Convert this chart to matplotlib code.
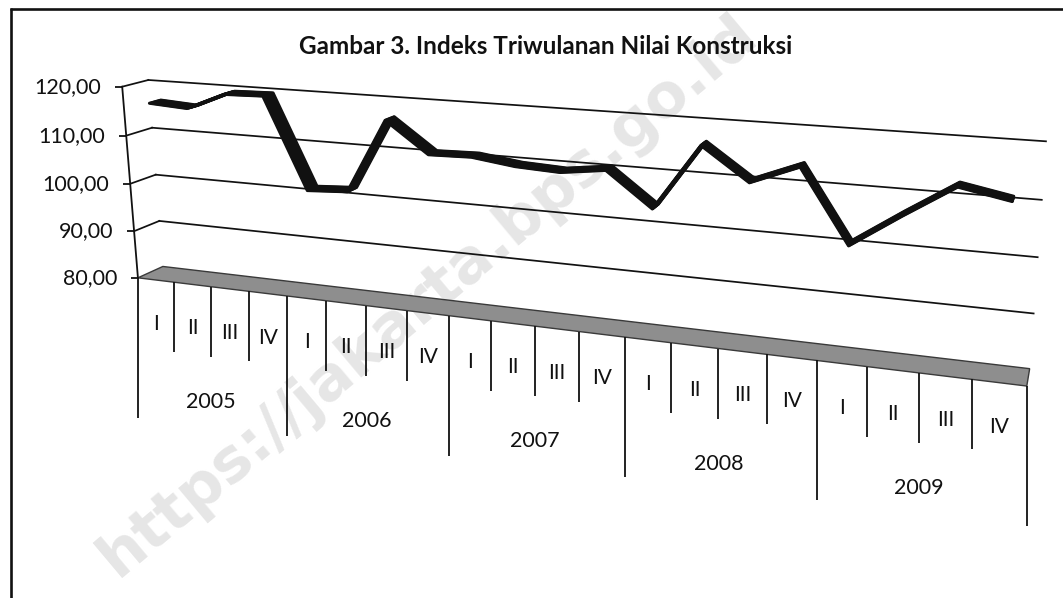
import numpy as np
import matplotlib
matplotlib.use("Agg")
import matplotlib.pyplot as plt
from matplotlib.transforms import Transform, offset_copy

# ---------------- data ----------------
quarters = ["I", "II", "III", "IV"]
years = ["2005", "2006", "2007", "2008", "2009"]
index_values = [
    116.5, 116.0, 119.4, 119.6,   # 2005
    101.4, 101.9, 116.6, 110.6,   # 2006
    110.8, 109.7, 109.3, 110.4,   # 2007
    104.0, 116.3, 110.3, 113.8,   # 2008
    100.6, 106.7, 112.5, 110.8,   # 2009
]
value_ticks = [80, 90, 100, 110, 120]
value_tick_labels = ["80,00", "90,00", "100,00", "110,00", "120,00"]
title = "Gambar 3. Indeks Triwulanan Nilai Konstruksi"
watermark = "https://jakarta.bps.go.id"

# ---------------- layout ----------------
W, H = 1063, 598
VMIN, VMAX = 80.0, 120.0
NCAT = len(years) * len(quarters)

# anchors of the 3-D box (category u, depth w [0 front,1 back], value v) -> image pixels
anchors = [
    ((0, 1, 120), (148, 80)), ((0, 1, 110), (152, 128)), ((0, 1, 100), (157, 175)),
    ((0, 1, 90), (159, 221)), ((0, 1, 80), (162, 267)),
    ((20, 1, 120), (1046, 142)), ((20, 1, 110), (1042, 200)), ((20, 1, 100), (1037, 257)),
    ((20, 1, 90), (1034, 312)), ((20, 1, 80), (1030, 368)),
    ((0, 0, 120), (122, 86)), ((0, 0, 80), (138, 277)), ((20, 0, 80), (1027, 387)),
    ((4, 0, 80), (288, 296)), ((8, 0, 80), (449, 316)), ((12, 0, 80), (624, 337)),
    ((16, 0, 80), (816, 361)),
]


def fit_camera(anchor_list):
    X = np.array([[u / NCAT, w, (v - VMIN) / (VMAX - VMIN), 1.0] for (u, w, v), _ in anchor_list])
    P = np.array([p for _, p in anchor_list], float)
    m = P.mean(0)
    s = P.std()
    Pn = (P - m) / s
    rows = []
    for Xi, (x, y) in zip(X, Pn):
        rows.append(np.r_[Xi, np.zeros(4), -x * Xi])
        rows.append(np.r_[np.zeros(4), Xi, -y * Xi])
    _, _, Vt = np.linalg.svd(np.array(rows))
    M = Vt[-1].reshape(3, 4)
    T = np.array([[s, 0, m[0]], [0, s, m[1]], [0, 0, 1]])
    return T @ M


CAM = fit_camera(anchors)


class Scene(Transform):
    """Maps 2-D coordinates lying on one plane of the 3-D chart box to image pixels."""
    input_dims = 2
    output_dims = 2
    is_separable = False
    has_inverse = False

    def __init__(self, mode, const):
        super().__init__()
        self.mode = mode
        self.const = const

    def transform_non_affine(self, pts):
        pts = np.asarray(pts, float).reshape(-1, 2)
        a, b = pts[:, 0], pts[:, 1]
        one = np.ones(len(a))
        if self.mode == "uv":
            u, w, v = a, self.const * one, b
        elif self.mode == "wv":
            u, w, v = self.const * one, a, b
        else:  # "uw"
            u, w, v = a, b, self.const * one
        X = np.vstack([u / NCAT, w, (v - VMIN) / (VMAX - VMIN), one])
        p = CAM @ X
        return np.column_stack([p[0] / p[2], p[1] / p[2]])


fig = plt.figure(figsize=(W / 100, H / 100), dpi=100)
ax = fig.add_axes([0, 0, 1, 1])
ax.set_xlim(0, W)
ax.set_ylim(H, 0)
ax.set_autoscale_on(False)
ax.axis("off")

def T(mode, const):
    return Scene(mode, const) + ax.transData

FONT = ["Lato", "DejaVu Sans"]
INK = "#111111"

# watermark
ax.text(428, 296, watermark, rotation=40, color="#e6e6e6", fontsize=44,
        fontweight="bold", family=["DejaVu Sans"], ha="center", va="center", zorder=0)

# outer frame (left and top only)
ax.plot([11, 11], [8, H], color=INK, lw=1.9, solid_capstyle="butt", zorder=1)
ax.plot([10, W], [9, 9], color=INK, lw=1.9, solid_capstyle="butt", zorder=1)

# title
ax.text(546, 47, title, ha="center", va="center", fontsize=17.5, fontweight="bold",
        family=FONT, color=INK, zorder=5)

# gridlines: back wall + side wall
for v in value_ticks[1:]:
    ax.plot([0, NCAT], [v, v], transform=T("uv", 1.0), color=INK, lw=1.25, zorder=2)
    ax.plot([0, 1], [v, v], transform=T("wv", 0.0), color=INK, lw=1.25, zorder=2)

# floor
ax.fill([0, NCAT, NCAT, 0], [0, 0, 1, 1], transform=T("uw", VMIN),
        facecolor="#8e8e8e", edgecolor="#3a3a3a", lw=1.0, zorder=2)

# value axis, ticks and labels
ax.plot([0, 0], [VMIN, VMAX], transform=T("wv", 0.0), color=INK, lw=1.3, zorder=3)
ax.plot([0] * len(value_ticks), value_ticks, ls="none", marker=0, markersize=5,
        mew=1.3, color=INK, transform=T("wv", 0.0), zorder=3)
lab_tr = offset_copy(T("wv", 0.0), fig=fig, x=-21, y=0, units="dots")
for v, lab in zip(value_ticks, value_tick_labels):
    ax.text(0, v, lab, transform=lab_tr, ha="right", va="center", fontsize=15.5,
            family=FONT, color=INK, zorder=5)

# category table below the floor
quarter_edges = [i for i in range(NCAT + 1) if i % len(quarters) != 0]
year_edges = [i for i in range(NCAT + 1) if i % len(quarters) == 0]
ax.plot(quarter_edges, [0] * len(quarter_edges), ls="none", marker=3, markersize=50.4,
        mew=1.3, color=INK, transform=T("uw", VMIN), zorder=3)
ax.plot(year_edges, [0] * len(year_edges), ls="none", marker=3, markersize=100.8,
        mew=1.3, color=INK, transform=T("uw", VMIN), zorder=3)

q_tr = offset_copy(T("uw", VMIN), fig=fig, x=0, y=-44, units="dots")
y_tr = offset_copy(T("uw", VMIN), fig=fig, x=0, y=-115, units="dots")
for yi, yr in enumerate(years):
    for qi, q in enumerate(quarters):
        ax.text(yi * len(quarters) + qi + 0.5, 0, q, transform=q_tr, ha="center",
                va="center", fontsize=15, family=FONT, color=INK, zorder=5)
    ax.text(yi * len(quarters) + len(quarters) / 2, 0, yr, transform=y_tr, ha="center",
            va="center", fontsize=15.5, family=FONT, color=INK, zorder=5)

# data ribbon (3-D line drawn as a strip across depth)
u_pts = np.arange(NCAT) + 0.5
for w in np.linspace(0.28, 0.72, 11):
    ax.plot(u_pts, index_values, transform=T("uv", w), color=INK, lw=2.2,
            solid_joinstyle="round", solid_capstyle="round", zorder=4)

fig.savefig("out.png", dpi=100)
